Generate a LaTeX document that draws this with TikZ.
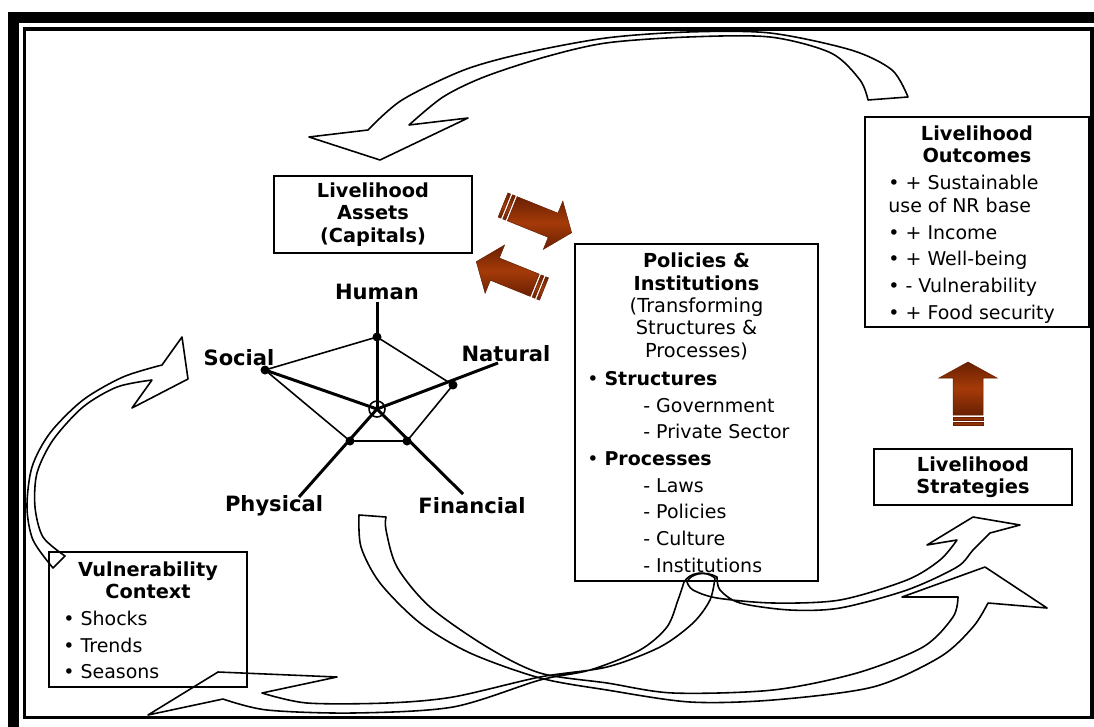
\documentclass[tikz,border=0pt]{standalone}
\usepackage{fontspec}
\setmainfont{DejaVu Sans}
\usetikzlibrary{positioning}

\definecolor{rust}{RGB}{165,58,8}
\definecolor{rustdark}{RGB}{105,32,2}

% striped block arrow: x, y, angle, length, half shaft, half head, head length
\newcommand{\striparrow}[7]{%
  \begin{scope}[shift={(#1,#2)},rotate=#3]
    \shadedraw[top color=rustdark,bottom color=rustdark,middle color=rust,draw=rustdark,line width=0.3pt]
      (0,-#5) rectangle (3,#5);
    \shadedraw[top color=rustdark,bottom color=rustdark,middle color=rust,draw=rustdark,line width=0.3pt]
      (5,-#5) rectangle (8,#5);
    \shadedraw[top color=rustdark,bottom color=rustdark,middle color=rust,draw=rustdark,line width=0.3pt]
      (10,-#5) -- (#4-#7,-#5) -- (#4-#7,-#6) -- (#4,0) -- (#4-#7,#6) -- (#4-#7,#5) -- (10,#5) -- cycle;
  \end{scope}}

\begin{document}
\begin{tikzpicture}[x=0.02cm,y=-0.02cm,
	box/.style={draw,line width=1.1pt,inner sep=0pt,align=center,font=\bfseries\fontsize{11}{12.7}\selectfont},
	head/.style={align=center,inner sep=0pt,font=\bfseries\fontsize{11}{12.7}\selectfont},
	list/.style={align=left,inner sep=0pt,anchor=west,font=\fontsize{10.8}{15.2}\selectfont},
	capital/.style={inner sep=0pt,font=\bfseries\fontsize{12}{14}\selectfont},
	axis/.style={line width=1.7pt},
	web/.style={line width=0.9pt},
	dot/.style={circle,fill,inner sep=0pt,minimum size=0.18cm},
	ribbon/.style={draw,line width=0.9pt,line join=round}]

	\useasboundingbox (0,0) rectangle (1094,726);

	% boxes
	\node[box,minimum width=3.96cm,minimum height=1.54cm] (assets) at (373,214.5) {Livelihood\\Assets\\(Capitals)};
	\node[box,minimum width=4.86cm,minimum height=6.74cm] (pol) at (696.5,412.5) {};
	\node[box,minimum width=4.48cm,minimum height=4.2cm] (outc) at (977,222) {};
	\node[box,minimum width=3.96cm,minimum height=1.12cm] (strat) at (973,477) {Livelihood\\Strategies};
	\node[box,minimum width=3.96cm,minimum height=2.7cm] (vul) at (148,619.5) {};

	\node[head] (polhead) at (696.5,306.5) {Policies \&\\Institutions\\\mdseries (Transforming\\\mdseries Structures \&\\\mdseries Processes)};
	\node[list] (pollist) at (587,472) {\textbullet\ \textbf{Structures}\\
		\hspace*{1.12cm}- Government\\
		\hspace*{1.12cm}- Private Sector\\
		\textbullet\ \textbf{Processes}\\
		\hspace*{1.12cm}- Laws\\
		\hspace*{1.12cm}- Policies\\
		\hspace*{1.12cm}- Culture\\
		\hspace*{1.12cm}- Institutions};

	\node[head] (outhead) at (977,144.5) {Livelihood\\Outcomes};
	\node[list] (outlist) at (888,249) {\textbullet\ + Sustainable\\[-2pt]
		use of NR base\\
		\textbullet\ + Income\\
		\textbullet\ + Well-being\\
		\textbullet\ - Vulnerability\\
		\textbullet\ + Food security};

	\node[head] (vulhead) at (148,580) {Vulnerability\\Context};
	\node[list] (vullist) at (63,645) {\textbullet\ Shocks\\\textbullet\ Trends\\\textbullet\ Seasons};

	% asset pentagon
	\coordinate (ctr) at (377,409);
	\coordinate (hd) at (377,337);
	\coordinate (he) at (377,302);
	\coordinate (sd) at (265,370);
	\coordinate (nd) at (453,385);
	\coordinate (ne) at (498,363);
	\coordinate (pd) at (350,441);
	\coordinate (pe) at (299,497);
	\coordinate (fd) at (407,441);
	\coordinate (fe) at (463,494);

	\node[capital] (human) at (377,292) {Human};
	\node[capital] (social) at (239,358) {Social};
	\node[capital] (natural) at (506,354) {Natural};
	\node[capital] (physical) at (274,506) {Physical};
	\node[capital] (financial) at (472,506) {Financial};

	\draw[web] (hd) -- (nd) -- (fd) -- (pd) -- (sd) -- cycle;
	\draw[axis] (ctr) -- (he);
	\draw[axis] (ctr) -- (sd);
	\draw[axis] (ctr) -- (ne);
	\draw[axis] (ctr) -- (pe);
	\draw[axis] (ctr) -- (fe);
	\draw[web] (ctr) circle (0.16cm);
	\foreach \d in {hd,sd,nd,pd,fd}
		\node[dot] at (\d) {};

	% hollow curved arrows
	\draw[ribbon] plot[smooth] coordinates {(908,97) (892,70) (851,50) (770,33) (688,32) (606,38) (525,53) (464,70) (402,100) (368,130)}
		-- (309,137) -- (380,160) -- (468,118) -- (409,125)
		-- plot[smooth] coordinates {(409,125) (443,97) (484,77) (545,57) (606,43) (688,37) (770,37) (831,53) (860,80) (868,100)} -- cycle;

	\draw[ribbon] plot[smooth] coordinates {(53,568) (33,540) (27,507) (32,467) (50,433) (83,400) (123,377) (162,365)}
		-- (182,337) -- (188,379) -- (132,408) -- (152,380)
		-- plot[smooth] coordinates {(152,380) (117,387) (83,407) (53,440) (37,473) (35,507) (43,537) (65,556)} -- cycle;

	\draw[ribbon] plot[smooth] coordinates {(684,582) (678,600) (667,627) (640,650) (590,670) (540,680) (453,707) (353,713) (267,710) (223,699)}
		-- (148,715) -- (218,672) -- (337,677) -- (262,693)
		-- plot[smooth] coordinates {(262,693) (307,703) (387,703) (453,697) (540,677) (607,667) (660,647) (693,623) (710,600) (715,578)}
		.. controls (705,570) and (690,572) .. cycle;

	\draw[ribbon] plot[smooth] coordinates {(359,515) (361,547) (380,583) (420,623) (470,653) (540,678) (607,690) (690,702) (773,700) (873,687) (940,657) (973,627) (988,603)}
		-- (1047,608) -- (985,567) -- (902,597) -- (958,597)
		-- plot[smooth] coordinates {(958,597) (953,617) (923,647) (857,673) (773,690) (673,693) (607,683) (540,673) (487,647) (430,607) (397,567) (386,530) (386,517)} -- cycle;

	\draw[ribbon] plot[smooth] coordinates {(687,582) (693,590) (717,598) (773,603) (840,600) (907,580) (940,560) (957,540)}
		-- (927,545) -- (973,517) -- (1020,525) -- (990,533)
		-- plot[smooth] coordinates {(990,533) (973,550) (957,567) (907,590) (840,608) (790,610) (740,603) (720,590) (717,577)}
		.. controls (705,570) and (690,574) .. cycle;

	% block arrows
	\striparrow{503}{205}{-22}{74}{13}{26}{20}
	\striparrow{544}{289}{158}{73}{12}{26}{20}
	\striparrow{968}{425}{90}{63}{15}{29}{16}

	% frame
	\draw[line width=0.22cm] (13.5,17.5) rectangle (1106,735);
	\draw[line width=0.07cm] (24.5,29) rectangle (1092,717.5);
\end{tikzpicture}
\end{document}
